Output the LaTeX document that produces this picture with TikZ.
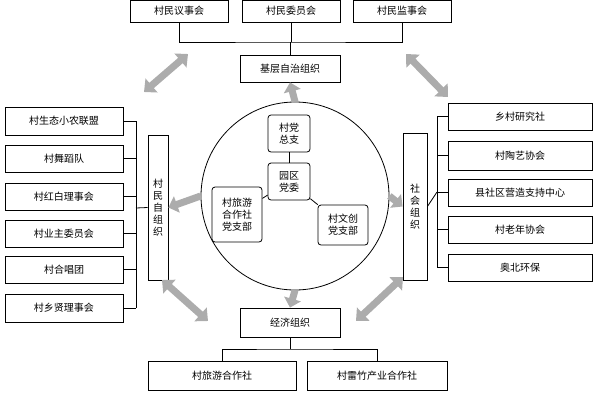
\documentclass[tikz,border=0pt]{standalone}
\usepackage{fontspec}
\newfontfamily\cjk{Noto Sans CJK SC}
\usetikzlibrary{arrows.meta}
\begin{document}
\begin{tikzpicture}[x=1pt,y=-1pt,font=\cjk\fontsize{10}{12}\selectfont,
 bx/.style={draw,thick,fill=white,inner sep=0pt},
 rb/.style={draw,thick,rounded corners=3pt,fill=white,inner sep=0pt,align=center,font=\cjk\fontsize{10}{12}\selectfont},
 garrow/.style={draw=gray!65,line width=7pt,-{Triangle[length=9pt,width=17pt]}},
 gdarrow/.style={draw=gray!65,line width=7pt,{Triangle[length=10pt,width=18pt]}-{Triangle[length=10pt,width=18pt]}},
 ln/.style={draw,thick}]
\useasboundingbox (0,0) rectangle (600,400);
\newcommand\bxat[6]{\node[bx,minimum width=#3-#1,minimum height=#4-#2] (#5) at ({(#1+#3)/2},{(#2+#4)/2}) {#6};}
% top
\bxat{130}{0}{228}{22}{t1}{村民议事会}
\bxat{242}{0}{340}{22}{t2}{村民委员会}
\bxat{353}{0}{451}{22}{t3}{村民监事会}
\bxat{240}{55}{340}{82}{jc}{基层自治组织}
\coordinate (tj) at (290,42);
\draw[ln] (t1.south) |- (tj) -| (t3.south);
\draw[ln] (t2.south) -- (t2.south |- tj);
\draw[ln] (tj) -- (jc.north);
% bottom
\bxat{240}{308}{340}{337}{jj}{经济组织}
\bxat{148}{361}{296}{390}{b1}{村旅游合作社}
\bxat{307}{361}{447}{390}{b2}{村雷竹产业合作社}
\coordinate (bj) at (290,349);
\draw[ln] (jj.south) -- (bj);
\draw[ln] (b1.north) |- (bj) -| (b2.north);
% left
\node[bx,minimum width=20,minimum height=145,align=center] (lv) at (158,207.5) {村\\民\\自\\组\\织};
\coordinate (lx) at (136,208);
\foreach \i/\ya/\yb/\t in {1/107/135/村生态小农联盟,2/145/172/村舞蹈队,3/183/210/村红白理事会,4/220/247/村业主委员会,5/256/283/村合唱团,6/294/322/村乡贤理事会}{
 \bxat{5}{\ya}{123}{\yb}{l\i}{\t}
 \draw[ln] (l\i.east) -- (l\i.east -| lx);
}
\draw[ln] (l1.east -| lx) -- (l6.east -| lx);
\draw[ln] (lx) -- (lv.west);
% right
\node[bx,minimum width=24,minimum height=147,align=center] (rv) at (415,206.5) {社\\会\\组\\织};
\coordinate (rx) at (437,192);
\foreach \i/\ya/\yb/\t in {1/103/130/乡村研究社,2/141/170/村陶艺协会,3/179/206/县社区营造支持中心,4/216/243/村老年协会,5/254/281/奥北环保}{
 \bxat{448}{\ya}{592}{\yb}{r\i}{\t}
 \draw[ln] (r\i.west) -- (r\i.west -| rx);
}
\draw[ln] (r1.west -| rx) -- (r5.west -| rx);
\draw[ln] (rx) -- (rv.east);
% circle
\node[draw,thick,circle,minimum size=188,inner sep=0pt] (c) at (295,196) {};
\node[rb,minimum width=42,minimum height=37] (p1) at (289,133.5) {村党\\总支};
\node[rb,minimum width=42,minimum height=37] (p2) at (289,181.5) {园区\\党委};
\node[rb,minimum width=50,minimum height=55] (p3) at (237,214.5) {村旅游\\合作社\\党支部};
\node[rb,minimum width=50,minimum height=40] (p4) at (343,225) {村文创\\党支部};
\draw[ln] (p1) -- (p2); \draw[ln] (p2) -- (p3); \draw[ln] (p2) -- (p4);
% gray arrows
\draw[garrow] (c.north) -- (jc.south);
\draw[garrow] (c.south) -- (jj.north);
\draw[garrow] (c.west) -- (lv.east);
\draw[garrow] (c.east) -- (rv.west);
\draw[gdarrow] (144,92) -- (188,54);
\draw[gdarrow] (406,54) -- (448,97);
\draw[gdarrow] (162,280) -- (208,321);
\draw[gdarrow] (356,321) -- (403,277);
\end{tikzpicture}
\end{document}
